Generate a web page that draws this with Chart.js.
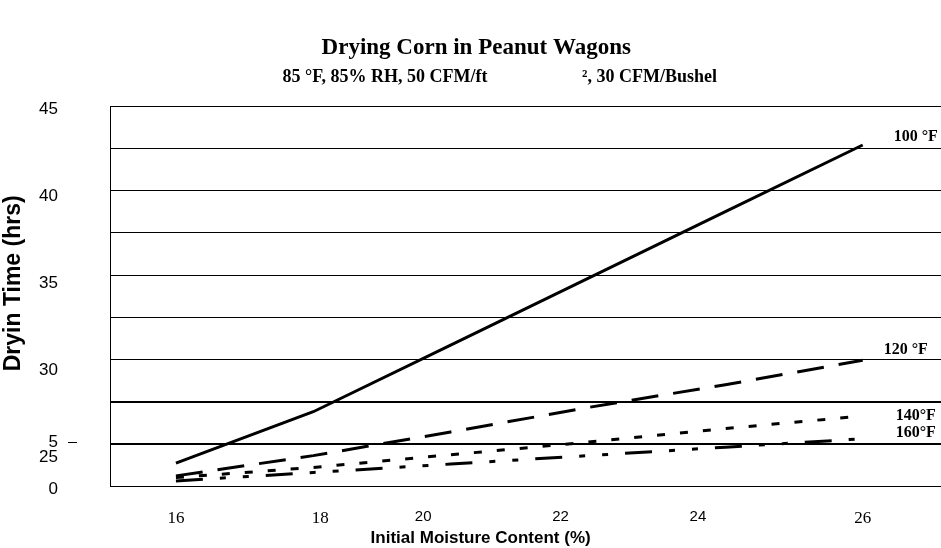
<!DOCTYPE html>
<html>
<head>
<meta charset="utf-8">
<script src="https://cdn.jsdelivr.net/npm/chart.js@4/dist/chart.umd.min.js"></script>
<style>
  html, body { margin: 0; padding: 0; background: #fff; }
  #wrap { width: 941px; height: 548px; }
</style>
</head>
<body>
<div id="wrap"><canvas id="drying-chart"></canvas></div>
<script>
// initial moisture content (%)
const moisture = [16, 18, 20, 22, 24, 26];
// drying time (hrs) for each drying air temperature
const temp100 = [23.85, 26.9, 30.85, 34.8, 38.75, 42.7];
const temp120 = [23.1, 24.3, 25.7, 27.15, 28.5, 29.95];
const temp140 = [23.0, 23.6, 24.35, 25.1, 25.9, 26.65];
const temp160 = [22.8, 23.3, 23.8, 24.3, 24.8, 25.3];
const seriesNames = ["100 °F", "120 °F", "140°F", "160°F"];

// tick labels as printed on the chart, and where they sit on each axis
const xTickLabels = ["16", "18", "20", "22", "24", "26"];
const xTickAt = [16, 18.1, 19.6, 21.6, 23.6, 26];
const yTickLabels = ["45", "40", "35", "30", "25", "5", "0"];
const yTickAt = [45, 40, 35, 30, 25, 25.86, 23.21];

const pts = ys => moisture.map((m, i) => ({ x: m, y: ys[i] }));
const nb = n => "\u00A0".repeat(n);

const serif = "'Liberation Serif', 'Times New Roman', serif";
const sans = "'Liberation Sans', Arial, sans-serif";

const endLabels = {
  id: "endLabels",
  afterDatasetsDraw(chart) {
    const offs = [[31, -8], [21, -10], [33, 0], [33, -6]];
    const ctx = chart.ctx;
    ctx.save();
    ctx.font = "bold 16px " + serif;
    ctx.fillStyle = "#000";
    ctx.textAlign = "left";
    ctx.textBaseline = "middle";
    chart.data.datasets.forEach((ds, i) => {
      const meta = chart.getDatasetMeta(i);
      const last = meta.data[meta.data.length - 1];
      ctx.fillText(seriesNames[i], last.x + offs[i][0], last.y + offs[i][1]);
    });
    ctx.restore();
  }
};

new Chart(document.getElementById("drying-chart"), {
  type: "line",
  data: {
    datasets: [{
        label: seriesNames[0],
        data: pts(temp100),
        borderColor: "#000",
        borderWidth: 3
      }, {
        label: seriesNames[1],
        data: pts(temp120),
        borderColor: "#000",
        borderWidth: 3,
        borderDash: [27, 15]
      }, {
        label: seriesNames[2],
        data: pts(temp140),
        borderColor: "#000",
        borderWidth: 3,
        borderDash: [8, 15]
      }, {
        label: seriesNames[3],
        data: pts(temp160),
        borderColor: "#000",
        borderWidth: 3,
        borderDash: [27, 17, 6, 17, 6, 17]
      }
    ]
  },
  options: {
    responsive: true,
    maintainAspectRatio: false,
    animation: false,
    layout: { padding: 0 },
    elements: {
      point: { radius: 0 },
      line: { tension: 0, borderCapStyle: "butt" }
    },
    plugins: {
      legend: { display: false },
      tooltip: { enabled: false },
      title: {
        display: true,
        text: nb(2) + "Drying Corn in Peanut Wagons",
        color: "#000",
        font: { family: serif, size: 23, weight: "bold" },
        padding: { top: 34, bottom: 5 }
      },
      subtitle: {
        display: true,
        text: nb(13) + "85 °F, 85% RH, 50 CFM/ft" + nb(21) + "², 30 CFM/Bushel",
        color: "#000",
        font: { family: serif, size: 18, weight: "bold" },
        padding: { top: 0, bottom: 18 }
      }
    },
    scales: {
      x: {
        type: "linear",
        min: 15.04,
        max: 27.14,
        afterBuildTicks: s => { s.ticks = xTickAt.map(v => ({ value: v })); },
        afterFit: s => { s.height = 62; },
        grid: { display: false },
        border: { display: false },
        ticks: {
          autoSkip: false,
          maxRotation: 0,
          padding: 14,
          color: "#000",
          callback: (v, i) => xTickLabels[i],
          font: ctx => ["20", "22", "24"].includes(xTickLabels[ctx.index])
            ? { family: sans, size: 15 }
            : { family: serif, size: 17 }
        },
        title: {
          display: true,
          text: "Initial Moisture Content (%)" + nb(19),
          color: "#000",
          font: { family: sans, size: 17, weight: "bold", lineHeight: 1 },
          padding: { top: 0, bottom: 1 }
        }
      },
      y: {
        type: "linear",
        position: "left",
        weight: 0,
        min: 22.5,
        max: 45,
        afterFit: s => { s.width = 33; },
        ticks: { stepSize: 2.5, display: false },
        grid: {
          color: "#000",
          lineWidth: ctx => (ctx.tick && (ctx.tick.value === 25 || ctx.tick.value === 27.5)) ? 2 : 1,
          drawTicks: false
        },
        border: { display: true, color: "#000", width: 1 }
      },
      yl: {
        type: "linear",
        position: "left",
        weight: 1,
        min: 23.38,
        max: 45.17,
        afterBuildTicks: s => { s.ticks = yTickAt.map(v => ({ value: v })); },
        afterFit: s => { s.width = 77; },
        grid: {
          drawOnChartArea: false,
          drawTicks: true,
          tickLength: 9,
          tickWidth: 1,
          tickColor: ctx => ctx.index === 5 ? "#000" : "rgba(0,0,0,0)"
        },
        border: { display: false },
        ticks: {
          autoSkip: false,
          padding: 10,
          color: "#000",
          font: { family: sans, size: 17 },
          callback: (v, i) => yTickLabels[i]
        },
        title: {
          display: true,
          text: nb(4) + "Dryin Time (hrs)",
          color: "#000",
          font: { family: sans, size: 23, weight: "bold", lineHeight: 1.1 },
          padding: { top: 1, bottom: 0 }
        }
      }
    }
  },
  plugins: [endLabels]
});
</script>
</body>
</html>
